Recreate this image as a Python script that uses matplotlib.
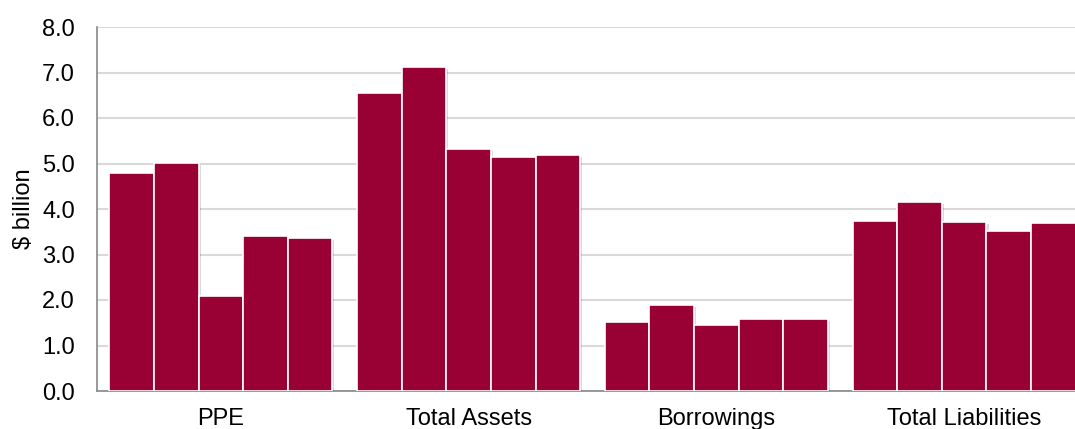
import matplotlib
matplotlib.use("Agg")
import matplotlib.pyplot as plt
import matplotlib.patheffects as pe
import numpy as np

categories = ["PPE", "Total Assets", "Borrowings", "Total Liabilities"]
series = [
    [4.79, 6.55, 1.52, 3.74],
    [5.01, 7.12, 1.89, 4.15],
    [2.09, 5.32, 1.45, 3.71],
    [3.41, 5.14, 1.58, 3.52],
    [3.36, 5.19, 1.58, 3.69],
]
yticks = [0, 1, 2, 3, 4, 5, 6, 7, 8]

plt.rcParams['font.family'] = ['Liberation Sans', 'DejaVu Sans']

fig = plt.figure(figsize=(10.75, 4.29), dpi=100)
ax = fig.add_axes([97/1075, 38/429, 991/1075, 364/429])

x = np.arange(len(categories))
n = len(series)
group_w = 0.9
bw = group_w / n
for i, vals in enumerate(series):
    pos = x - group_w/2 + bw*(i + 0.5)
    bars = ax.bar(pos, vals, width=bw, color="#990033", edgecolor="white",
                  linewidth=1.2, zorder=3)
    for b in bars:
        b.set_path_effects([pe.SimplePatchShadow(offset=(1.5, -1.5), shadow_rgbFace="#000000", alpha=0.15),
                            pe.Normal()])

ax.set_xlim(-0.5, len(categories) - 0.5)
ax.set_ylim(0, 8)
ax.set_yticks(yticks)
ax.set_yticklabels([f"{v:.1f}" for v in yticks])
ax.set_xticks(x)
ax.set_xticklabels(categories)
ax.tick_params(axis='both', length=0, labelsize=17, colors="black")
ax.tick_params(axis='y', pad=16)
ax.tick_params(axis='x', pad=12)
ax.yaxis.grid(True, color="#d9d9d9", linewidth=1.5, zorder=0)
ax.set_axisbelow(True)
for s in ["top", "right"]:
    ax.spines[s].set_visible(False)
ax.spines["left"].set_color("#888888")
ax.spines["bottom"].set_color("#888888")
ax.spines["left"].set_linewidth(1.2)
ax.spines["bottom"].set_linewidth(1.2)
ax.set_ylabel("$ billion", fontsize=17, labelpad=5)

fig.savefig("out.png", dpi=100)
